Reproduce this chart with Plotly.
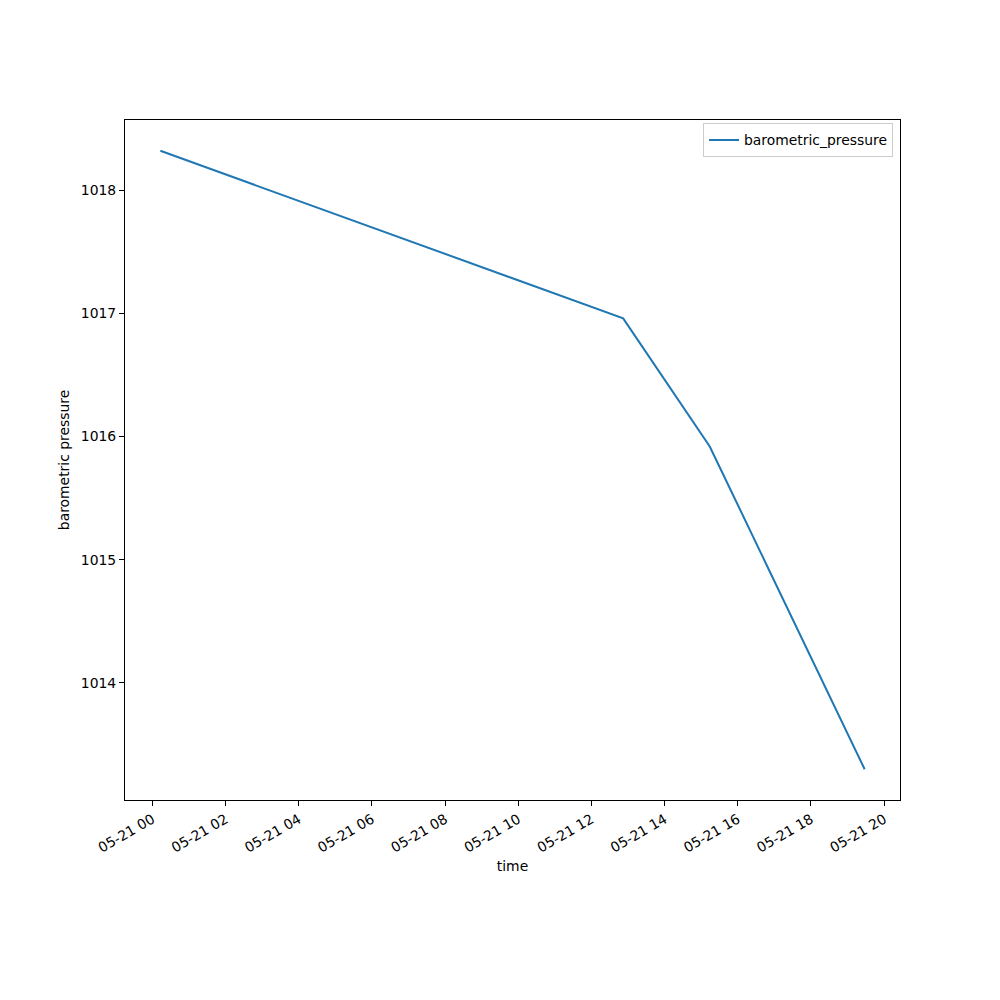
import plotly.graph_objects as go

times = ["2019-05-21 00:13", "2019-05-21 12:52", "2019-05-21 15:14", "2019-05-21 19:28"]
pressure = [1018.32, 1016.96, 1015.92, 1013.30]

fig = go.Figure()
fig.add_trace(go.Scatter(x=times, y=pressure, mode="lines", name="barometric_pressure",
                         line=dict(color="#1f77b4", width=2)))

font = dict(family="DejaVu Sans", size=13.9, color="black")
fig.update_layout(
    width=1000, height=1000,
    margin=dict(l=117, r=108, t=112, b=208),
    paper_bgcolor="white", plot_bgcolor="white",
    font=font,
    showlegend=True,
    legend=dict(x=0.991, y=0.995, xanchor="right", yanchor="top",
                bordercolor="#cccccc", borderwidth=1, bgcolor="white",
                font=font, itemwidth=30, tracegroupgap=0),
    xaxis=dict(
        type="date",
        range=["2019-05-20 23:15", "2019-05-21 20:26"],
        tickformat="%m-%d %H",
        dtick=2 * 3600 * 1000,
        tick0="2019-05-21 00:00",
        tickangle=-30,
        tickfont=font,
        ticks="outside", ticklen=5, tickcolor="black",
        showline=True, linecolor="black", linewidth=1, mirror=True,
        showgrid=False, zeroline=False,
        title=dict(text="time", standoff=6, font=font),
    ),
    yaxis=dict(
        range=[1013.05, 1018.57],
        tickvals=[1014, 1015, 1016, 1017, 1018],
        tickfont=font,
        ticks="outside", ticklen=5, tickcolor="black",
        showline=True, linecolor="black", linewidth=1, mirror=True,
        showgrid=False, zeroline=False,
        title=dict(text="barometric pressure", standoff=7, font=font),
    ),
)

fig.write_html("out.html")
